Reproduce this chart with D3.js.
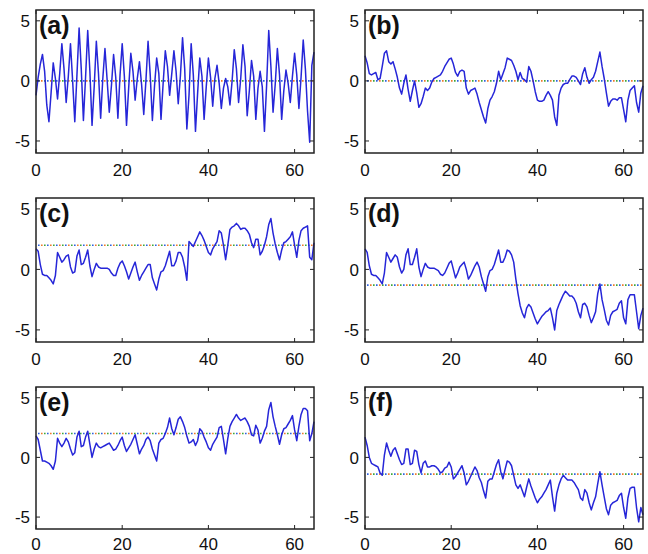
<!DOCTYPE html>
<html>
<head>
<meta charset="utf-8">
<script src="https://cdn.jsdelivr.net/npm/d3@7"></script>
<style>
  body { margin: 0; background: #fff; }
  svg { display: block; }
</style>
</head>
<body>
<svg id="drawing"></svg>
<script>
// samples every half unit, from 0 to 64.5
const step = 0.5;

const seriesA = [
  -1.2, 0.3, 1.4, 2.2, 0.8, -2.0, -3.4, -1.0, 1.5, 0.2,
  -1.5, 0.6, 3.1, 1.0, -1.8, 0.4, 3.1, 0.0, -3.4, 0.5,
  4.4, 1.0, -3.3, 0.3, 4.2, 0.8, -3.7, -0.5, 3.3, 0.6,
  -3.1, 0.2, 2.7, 0.1, -2.6, -0.4, 2.2, 0.3, -3.1, 0.5,
  3.1, 0.4, -3.7, -0.6, 2.3, 0.8, -1.6, 0.2, 1.6, -0.3,
  -2.8, 0.0, 3.3, 0.5, -3.3, -0.4, 1.9, 0.6, -3.2, -0.2,
  2.5, 1.2, -1.2, 0.6, 2.5, 0.8, -1.9, 0.4, 3.6, 1.0,
  -4.0, -1.2, 3.1, 0.5, -4.2, -1.0, 1.9, 0.4, -3.2, -0.5,
  1.9, 0.3, -2.1, 0.2, 1.3, -0.2, -2.3, -0.6, 0.2, -0.5,
  -2.0, 0.0, 2.6, 1.0, -1.8, 0.2, 3.0, 1.2, -2.9, -0.8,
  1.7, 0.4, -3.2, -0.6, 0.8, -0.5, -4.2, -0.4, 4.2, 1.2,
  -2.6, -0.3, 2.7, 0.5, -3.2, -0.8, 0.9, -0.2, -1.8, 0.4,
  2.3, 0.5, -2.3, 0.3, 3.4, 1.0, -2.5, -5.1, 1.3, 2.4
];

const seriesB = [
  2.1, 1.5, 0.6, 0.5, 0.6, 0.7, 0.1, 0.2, 1.2, 2.3,
  2.5, 1.6, 1.4, 1.6, 1.0, 0.3, -0.6, -1.1, -0.2, 0.5,
  -0.7, -1.7, -0.8, 0.0, -1.0, -2.2, -1.9, -1.3, -0.6, -0.8,
  -0.6, -0.1, 0.2, 0.3, 0.4, 0.5, 0.8, 1.2, 1.5, 1.8,
  1.9, 1.4, 0.7, 0.4, 0.8, 0.9, 0.8, -0.6, -1.1, -0.8,
  -0.7, -0.6, -1.1, -1.8, -2.4, -3.0, -3.5, -2.3, -1.6, -1.3,
  -0.9, -0.2, 0.8, 0.1, 0.6, 1.1, 1.9, 1.8, 1.7, 1.3,
  0.8, 0.1, 0.7, 0.2, 0.1, -0.1, 1.2, 0.8, 0.0, -0.9,
  -1.6, -1.7, -1.7, -1.6, -1.2, -0.9, -1.2, -1.6, -3.0, -3.7,
  -1.2, -0.6, -0.3, -0.2, -0.2, 0.1, 0.4, 0.4, 0.3, 0.0,
  -0.3, 0.6, 1.1, 0.3, -0.2, 0.1, 0.3, 0.8, 1.6, 2.4,
  1.2, 0.2, -1.0, -2.1, -1.7, -1.5, -1.5, -1.6, -1.4, -1.4,
  -2.4, -3.4, -1.6, -0.8, -0.6, -0.4, -1.8, -2.6, -1.0, -0.4
];

const seriesC = [
  1.7, 1.5, 0.4, -0.4, -0.5, -0.5, -0.7, -0.9, -1.2, -0.5,
  1.4, 1.0, 0.6, 0.8, 1.1, 1.2, 0.2, -0.3, -0.2, 1.1,
  1.6, 0.4, 0.5, 1.0, 1.6, 0.3, -0.6, 0.0, 0.5, 0.2,
  0.1, 0.1, 0.1, 0.1, 0.0, -0.3, -0.5, -0.5, 0.1, 0.5,
  0.7, 0.3, -0.2, -0.8, -0.3, 0.2, 0.6, -0.2, -0.9, -0.5,
  -0.2, 0.1, 0.4, 0.4, -0.7, -1.2, -1.7, -0.8, -0.2, -0.1,
  0.3, 0.9, 1.5, 0.3, 0.3, 0.7, 1.4, 1.4, 1.0, 0.2,
  -0.9, 2.3, 2.1, 1.9, 2.3, 2.7, 3.1, 2.8, 2.4, 1.9,
  1.4, 1.2, 1.7, 2.0, 2.3, 3.2, 3.0, 2.0, 0.8, 2.0,
  3.3, 3.5, 3.6, 3.8, 3.6, 3.3, 3.4, 3.4, 3.2, 2.9,
  2.2, 1.8, 2.5, 2.5, 1.2, 1.5, 2.0, 2.7, 3.7, 4.2,
  3.0, 2.1, 1.4, 0.8, 1.6, 2.2, 2.3, 2.5, 2.7, 3.1,
  2.0, 1.0, 2.4, 3.2, 3.4, 3.5, 3.6, 1.0, 0.8, 2.2
];

const seriesD = [
  1.7, 1.4, 0.3, -0.4, -0.5, -0.5, -0.7, -0.9, -1.2, -0.3,
  1.4, 1.0, 0.6, 0.9, 1.2, 1.0, 0.2, -0.3, 0.0, 1.2,
  1.7, 0.4, 0.4, 1.0, 1.7, 0.2, -0.6, 0.0, 0.5, 0.2,
  0.1, 0.1, 0.1, 0.0, -0.1, -0.4, -0.5, -0.3, 0.1, 0.5,
  0.7, 0.0, -0.7, -0.3, 0.2, 0.4, 0.6, 0.0, -0.8, -0.5,
  -0.1, 0.3, 0.6, 0.2, -0.6, -1.2, -1.8, -0.6, -0.1, 0.0,
  0.4, 1.0, 1.6, 0.6, 0.6, 1.0, 1.6, 1.5, 1.2, 0.6,
  -0.8, -2.0, -3.0, -3.6, -4.0, -3.2, -2.9, -3.1, -3.6, -4.1,
  -4.5, -4.2, -3.9, -3.7, -3.5, -3.4, -3.2, -4.0, -5.0, -3.4,
  -2.9, -2.5, -2.1, -1.8, -2.0, -2.2, -2.2, -2.4, -2.8, -3.5,
  -4.0, -2.9, -2.8, -3.1, -3.8, -4.4, -4.0, -3.5, -2.0, -1.2,
  -2.5, -3.3, -4.2, -4.6, -3.8, -3.5, -3.4, -3.3, -2.8, -2.6,
  -4.0, -4.5, -2.5, -2.1, -2.1, -2.1, -3.5, -4.9, -3.8, -3.2
];

const seriesE = [
  1.8, 1.5, 0.6, -0.3, -0.3, -0.4, -0.5, -0.7, -1.0, -0.3,
  1.6, 1.2, 0.9, 1.2, 1.6, 1.3, 0.7, 0.2, 0.4, 1.7,
  2.2, 0.9, 1.0, 1.7, 2.2, 1.1, 0.0, 0.7, 1.2, 0.9,
  0.8, 0.9, 1.0, 1.1, 1.2, 0.9, 0.6, 0.7, 1.0, 1.4,
  1.7, 1.0, 0.5, 0.8, 1.1, 1.5, 1.9, 1.1, 0.3, 0.7,
  1.0, 1.5, 1.7, 1.4, 0.7, 0.2, -0.3, 1.2, 1.5, 1.6,
  2.0, 2.5, 3.3, 2.4, 1.9, 2.5, 3.2, 3.4, 3.0, 2.5,
  1.8, 1.2, 1.3, 1.5, 1.0, 1.4, 2.4, 2.2, 1.7, 1.3,
  0.8, 0.6, 1.1, 1.4, 1.7, 2.5, 2.6, 1.5, 0.3, 1.6,
  2.6, 3.0, 3.3, 3.6, 3.3, 3.1, 3.2, 3.3, 3.0, 2.6,
  1.9, 1.8, 2.7, 2.3, 1.2, 1.6, 2.2, 2.6, 4.0, 4.6,
  3.4, 2.6, 1.9, 1.1, 1.9, 2.4, 2.5, 2.8, 3.1, 3.5,
  2.3, 1.4, 2.6, 3.6, 4.1, 4.1, 3.9, 1.4, 2.0, 3.0
];

const seriesF = [
  1.7, 1.0, 0.0, -0.5, -0.6, -0.7, -0.8, -1.3, -1.5, 0.2,
  1.2, 0.6, 0.1, 0.6, 0.8, 0.3, -0.2, -0.6, -0.5, 0.7,
  0.7, -0.6, -0.5, 0.6, 0.5, -0.6, -1.3, -0.5, -0.3, -0.8,
  -0.8, -0.7, -0.7, -0.8, -1.0, -1.3, -1.2, -0.9, -0.8, -0.4,
  -0.8, -1.8, -1.6, -1.3, -1.0, -0.7, -1.3, -2.3, -2.0, -1.6,
  -1.2, -0.8, -1.1, -1.7, -2.1, -2.8, -3.4, -2.0, -1.8, -1.8,
  -1.2, -0.6, -0.2, -1.2, -1.8, -1.0, -0.3, -0.4, -0.7, -1.5,
  -2.3, -2.6, -2.3, -2.8, -3.3, -2.5, -1.8, -2.4, -2.9, -3.4,
  -3.8, -3.5, -3.3, -3.0, -2.7, -2.3, -1.9, -3.3, -4.5, -3.0,
  -2.3, -1.8, -1.5, -1.7, -1.9, -1.9, -1.9, -2.1, -2.4, -2.7,
  -3.4, -3.6, -2.7, -3.0, -3.8, -4.4, -3.8, -3.3, -2.2, -1.2,
  -2.3, -3.3, -4.3, -4.8, -4.0, -3.8, -3.7, -3.6, -3.2, -3.0,
  -4.2, -5.1, -3.4, -2.6, -2.5, -2.5, -4.2, -5.4, -4.2, -4.8
];

const panelLabels = ["(a)", "(b)", "(c)", "(d)", "(e)", "(f)"];
const refLevels = [0, 0, 2, -1.3, 2, -1.4];
const xTicks = [0, 20, 40, 60];
const yTicks = [-5, 0, 5];

const allSeries = [seriesA, seriesB, seriesC, seriesD, seriesE, seriesF];

const W = 648, H = 554;
const svg = d3.select("#drawing")
    .attr("width", W)
    .attr("height", H);

// frame boxes, column by column and row by row
const colX = [[36, 314], [365, 643]];
const rowY = [[10, 153], [198, 342], [387, 529]];

const font = "'Liberation Sans', Arial, Helvetica, sans-serif";
const dotColors = ["#2f62e0", "#f07a2a", "#3fa83a"];

allSeries.forEach((values, k) => {
    const col = k % 2, row = Math.floor(k / 2);
    const [x0, x1] = colX[col];
    const [y0, y1] = rowY[row];

    const x = d3.scaleLinear().domain([0, 64.5]).range([x0, x1]);
    const y = d3.scaleLinear().domain([-6, 5.9]).range([y1, y0]);

    const g = svg.append("g");

    // dotted reference level (mixed colour dots)
    dotColors.forEach((c, j) => {
        g.append("line")
            .attr("x1", x0 + 2).attr("x2", x1 - 1)
            .attr("y1", y(refLevels[k])).attr("y2", y(refLevels[k]))
            .attr("stroke", c)
            .attr("stroke-width", 1.6)
            .attr("stroke-dasharray", "1.6,7.4")
            .attr("stroke-dashoffset", -j * 3);
    });

    // the signal
    const line = d3.line()
        .x((d, i) => x(i * step))
        .y(d => y(d));

    g.append("path")
        .datum(values)
        .attr("d", line)
        .attr("fill", "none")
        .attr("stroke", "#2626d8")
        .attr("stroke-width", 1.5)
        .attr("stroke-linejoin", "round");

    // box
    g.append("rect")
        .attr("x", x0).attr("y", y0)
        .attr("width", x1 - x0).attr("height", y1 - y0)
        .attr("fill", "none")
        .attr("stroke", "#222")
        .attr("stroke-width", 1.5);

    // ticks inside the box, on all four sides
    const tl = 4;
    const labelGap = row === 2 ? 21 : 23;
    xTicks.forEach(t => {
        g.append("line")
            .attr("x1", x(t)).attr("x2", x(t))
            .attr("y1", y1).attr("y2", y1 - tl)
            .attr("stroke", "#222");
        g.append("line")
            .attr("x1", x(t)).attr("x2", x(t))
            .attr("y1", y0).attr("y2", y0 + tl)
            .attr("stroke", "#222");
        g.append("text")
            .attr("x", x(t))
            .attr("y", y1 + labelGap)
            .attr("text-anchor", "middle")
            .style("font-family", font)
            .style("font-size", "17px")
            .attr("fill", "#111")
            .text(t);
    });
    yTicks.forEach(t => {
        g.append("line")
            .attr("x1", x0).attr("x2", x0 + tl)
            .attr("y1", y(t)).attr("y2", y(t))
            .attr("stroke", "#222");
        g.append("line")
            .attr("x1", x1).attr("x2", x1 - tl)
            .attr("y1", y(t)).attr("y2", y(t))
            .attr("stroke", "#222");
        g.append("text")
            .attr("x", x0 - 6)
            .attr("y", y(t))
            .attr("dy", "0.36em")
            .attr("text-anchor", "end")
            .style("font-family", font)
            .style("font-size", "17px")
            .attr("fill", "#111")
            .text(t);
    });

    // panel letter
    g.append("text")
        .attr("x", x0 + 3)
        .attr("y", y0 + 24)
        .style("font-family", font)
        .style("font-size", "25px")
        .style("font-weight", "bold")
        .attr("fill", "#111")
        .text(panelLabels[k]);
});
</script>
</body>
</html>
